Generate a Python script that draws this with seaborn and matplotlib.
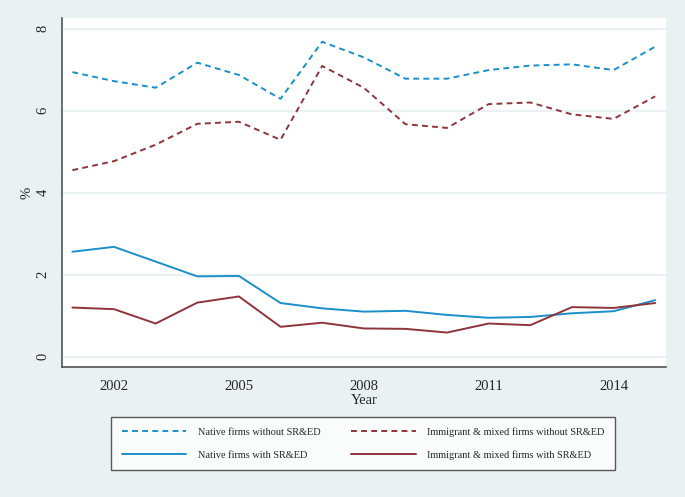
import matplotlib
matplotlib.use('Agg')
import matplotlib.pyplot as plt
import seaborn as sns
import pandas as pd

years = list(range(2001, 2016))
native_without = [6.94, 6.72, 6.56, 7.17, 6.87, 6.29, 7.68, 7.30, 6.78, 6.78, 6.99, 7.10, 7.13, 6.99, 7.56]
immig_without = [4.55, 4.77, 5.17, 5.68, 5.73, 5.29, 7.09, 6.56, 5.67, 5.58, 6.16, 6.20, 5.91, 5.80, 6.35]
native_with = [2.56, 2.68, 2.32, 1.96, 1.97, 1.31, 1.18, 1.10, 1.12, 1.02, 0.95, 0.97, 1.06, 1.11, 1.38]
immig_with = [1.20, 1.16, 0.81, 1.32, 1.47, 0.73, 0.83, 0.69, 0.68, 0.59, 0.81, 0.77, 1.21, 1.19, 1.31]

labels = ["Native firms without SR&ED", "Immigrant & mixed firms without SR&ED",
          "Native firms with SR&ED", "Immigrant & mixed firms with SR&ED"]
xticks = [2002, 2005, 2008, 2011, 2014]
yticks = [0, 2, 4, 6, 8]

BLUE = '#1b8fc8'
RED = '#8f343b'
BG = '#eaf1f3'

sns.set_style('white')
plt.rcParams['font.family'] = ['Liberation Serif', 'DejaVu Serif']

df = pd.DataFrame({'Year': years * 4,
                   'value': native_without + immig_without + native_with + immig_with,
                   'series': [l for l in labels for _ in years]})

fig = plt.figure(figsize=(6.85, 4.97), dpi=100, facecolor=BG)
ax = fig.add_axes([62 / 685, 1 - 367 / 497, (666 - 62) / 685, (367 - 18) / 497])
ax.set_facecolor('white')

styles = {labels[0]: (BLUE, (3, 2.2)), labels[1]: (RED, (3, 2.2)),
          labels[2]: (BLUE, ''), labels[3]: (RED, '')}
handles = []
for lab in labels:
    col, dash = styles[lab]
    sub = df[df['series'] == lab]
    sns.lineplot(data=sub, x='Year', y='value', ax=ax, color=col, lw=1.4, label=lab)
    line = ax.lines[-1]
    if dash:
        line.set_dashes(dash)
    handles.append(line)

ax.set_xlim(2000.75, 2015.26)
ax.set_ylim(-0.25, 8.26)
ax.set_xticks(xticks)
ax.set_yticks(yticks)
ax.set_yticklabels([str(t) for t in yticks], rotation=90, va='center')
ax.tick_params(axis='both', direction='out', length=5, width=1, color='#555555',
               labelsize=10.5, pad=4)
ax.grid(axis='y', color=BG, lw=1.5)
ax.set_axisbelow(True)
for s in ['top', 'right']:
    ax.spines[s].set_visible(False)
for s in ['left', 'bottom']:
    ax.spines[s].set_color('#555555')
    ax.spines[s].set_linewidth(1.2)
ax.set_xlabel('Year', fontsize=10.5, labelpad=1)
ax.set_ylabel('%', fontsize=10.5, labelpad=2)
ax.legend_.remove()

order = [0, 2, 1, 3]
leg = fig.legend([handles[i] for i in order], [labels[i] for i in order],
                 loc='upper center', ncol=2,
                 bbox_to_anchor=(363 / 685, 1 - 417 / 497),
                 fontsize=7.4, frameon=True, fancybox=False, edgecolor='#333333',
                 handlelength=6.3, handletextpad=1.1, labelspacing=1.3,
                 borderpad=1.0, columnspacing=3.0, borderaxespad=0)
leg.get_frame().set_linewidth(1.0)

fig.savefig('out.png', dpi=100, facecolor=BG)
